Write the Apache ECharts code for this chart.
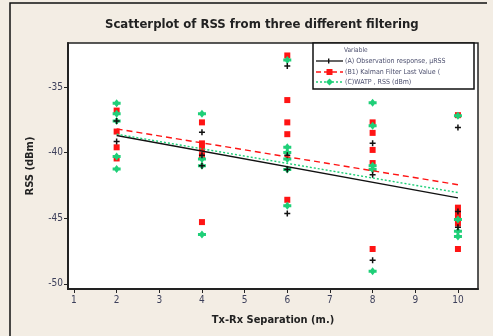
<!DOCTYPE html>
<html>
<head>
<meta charset="utf-8">
<title>Scatterplot of RSS</title>
<script src="https://cdn.jsdelivr.net/npm/echarts@6/dist/echarts.min.js"></script>
<style>
  html, body { margin: 0; padding: 0; background: #f3ede4; }
  #main { width: 493px; height: 336px; }
</style>
</head>
<body>
<div id="main"></div>
<script>
// values: [separation (m), RSS (dBm)]
var obsA = [
  [2, -37.6], [2, -39.15],
  [4, -38.45], [4, -40.2], [4, -41.0],
  [6, -33.4], [6, -40.2], [6, -41.3], [6, -44.65],
  [8, -39.3], [8, -41.7], [8, -48.2],
  [10, -38.1], [10, -44.5], [10, -45.7]
];
var kalmanB = [
  [2, -36.8], [2, -38.4], [2, -39.6], [2, -40.45],
  [4, -37.7], [4, -39.3], [4, -39.7], [4, -40.2], [4, -45.3],
  [6, -32.6], [6, -36.0], [6, -37.7], [6, -38.6], [6, -43.6],
  [8, -37.7], [8, -38.5], [8, -39.8], [8, -40.8], [8, -47.35],
  [10, -37.15], [10, -44.2], [10, -44.6], [10, -45.0], [10, -45.4], [10, -47.35]
];
var watpC = [
  [2, -36.25], [2, -37.05], [2, -37.6], [2, -40.3], [2, -41.25],
  [4, -37.05], [4, -40.5], [4, -41.0], [4, -46.25],
  [6, -32.95], [6, -39.6], [6, -40.0], [6, -40.5], [6, -41.3], [6, -44.05],
  [8, -36.2], [8, -37.95], [8, -41.0], [8, -41.3], [8, -49.05],
  [10, -37.2], [10, -45.1], [10, -46.0], [10, -46.4]
];
// fitted regression lines, end points
var fitA = [[2, -38.7], [10, -43.45]];
var fitB = [[2, -38.2], [10, -42.45]];
var fitC = [[2, -38.6], [10, -43.05]];

var xTicks = [1, 2, 3, 4, 5, 6, 7, 8, 9, 10];
var yTicks = [-50, -45, -40, -35];
var seriesNames = ['(A) Observation response, μRSS', '(B1) Kalman Filter Last Value (', '(C)WATP , RSS (dBm)'];

var cBlack = '#111111', cRed = '#ff1414', cGreen = '#1fcf78';
var fontF = '"DejaVu Sans Condensed", "Liberation Sans", sans-serif';
var plusPath = 'path://M3,0H5V3H8V5H5V8H3V5H0V3H3Z';
var greenPath = 'path://M4,0L6,2.5H8V5.5L6,5.5L4,8L2,5.5H0V2.5H2Z';

var chart = echarts.init(document.getElementById('main'));

// legend drawn by hand (line sample + marker + label)
function legendRow(y, color, dash, sym, text) {
  var items = [
    { type: 'line', shape: { x1: 316, y1: y, x2: 343, y2: y },
      style: { stroke: color, lineWidth: 1.3, lineDash: dash } },
    { type: 'text', x: 345, y: y, style: { text: text, fill: '#4c4f6e',
      font: '7px ' + fontF, verticalAlign: 'middle' } }
  ];
  if (sym === 'plus') {
    items.push({ type: 'rect', shape: { x: 328, y: y - 2.5, width: 1.4, height: 5 }, style: { fill: color } });
  } else if (sym === 'square') {
    items.push({ type: 'rect', shape: { x: 326.5, y: y - 3, width: 6, height: 6 }, style: { fill: color } });
  } else {
    items.push({ type: 'polygon', shape: { points: [[329.5, y - 3.5], [333, y], [329.5, y + 3.5], [326, y]] }, style: { fill: color } });
  }
  return items;
}

var legendEls = [
  { type: 'rect', shape: { x: 313, y: 43, width: 161, height: 46 },
    style: { fill: '#ffffff', stroke: '#111', lineWidth: 1.5 }, z: 100 },
  { type: 'text', x: 344, y: 50, z: 101, style: { text: 'Variable', fill: '#4c4f6e',
    font: '6.5px ' + fontF, verticalAlign: 'middle' } }
].concat(
  legendRow(61, cBlack, null, 'plus', seriesNames[0]),
  legendRow(72, cRed, [5, 3], 'square', seriesNames[1]),
  legendRow(82, cGreen, [2, 2], 'diamond', seriesNames[2])
).map(function (e) { if (e.z == null) e.z = 101; return e; });

var option = {
  backgroundColor: '#f3ede4',
  animation: false,
  title: {
    text: 'Scatterplot of RSS from three different filtering',
    left: 100, top: 13,
    textStyle: { fontFamily: fontF, fontSize: 13, fontWeight: 'bold', color: '#222' }
  },
  grid: {
    left: 68, right: 15, top: 43, bottom: 47,
    show: true, backgroundColor: '#ffffff', borderColor: '#222', borderWidth: 1.5
  },
  xAxis: {
    type: 'value', min: 0.86, max: 10.47,
    name: 'Tx-Rx Separation (m.)', nameLocation: 'middle', nameGap: 26,
    nameTextStyle: { fontFamily: fontF, fontSize: 11, fontWeight: 'bold', color: '#222' },
    splitLine: { show: false },
    axisLine: { lineStyle: { color: '#222', width: 2 } },
    axisTick: { customValues: xTicks, length: 4, lineStyle: { color: '#222' } },
    axisLabel: { customValues: xTicks, margin: 6, fontFamily: fontF, fontSize: 10, color: '#3c3f5a' }
  },
  yAxis: {
    type: 'value', min: -50.4, max: -31.65,
    name: 'RSS (dBm)', nameLocation: 'middle', nameGap: 32, nameRotate: 90,
    nameTextStyle: { fontFamily: fontF, fontSize: 11, fontWeight: 'bold', color: '#222' },
    splitLine: { show: false },
    axisLine: { show: true, lineStyle: { color: '#222', width: 2 } },
    axisTick: { show: true, customValues: yTicks, length: 4, lineStyle: { color: '#222' } },
    axisLabel: { customValues: yTicks, margin: 5, fontFamily: fontF, fontSize: 10, color: '#3c3f5a' }
  },
  series: [
    { name: seriesNames[2], type: 'scatter', data: watpC, symbol: greenPath, symbolSize: 8,
      itemStyle: { color: cGreen, opacity: 1 }, z: 3 },
    { name: seriesNames[1], type: 'scatter', data: kalmanB, symbol: 'rect', symbolSize: 6,
      itemStyle: { color: cRed, opacity: 1 }, z: 2 },
    { name: seriesNames[0], type: 'scatter', data: obsA, symbol: plusPath, symbolSize: 6,
      itemStyle: { color: cBlack, opacity: 1 }, z: 4 },
    { name: 'fitA', type: 'line', data: fitA, showSymbol: false, z: 5,
      lineStyle: { color: cBlack, width: 1.4 } },
    { name: 'fitB', type: 'line', data: fitB, showSymbol: false, z: 5,
      lineStyle: { color: cRed, width: 1.4, type: [6, 4] } },
    { name: 'fitC', type: 'line', data: fitC, showSymbol: false, z: 5,
      lineStyle: { color: cGreen, width: 1.4, type: [2, 2] } }
  ],
  graphic: [
    { type: 'polyline', shape: { points: [[10, 336], [10, 3], [487, 3]] },
      style: { stroke: '#111', lineWidth: 1.5, fill: null }, z: 1 }
  ].concat(legendEls)
};

chart.setOption(option);
</script>
</body>
</html>
